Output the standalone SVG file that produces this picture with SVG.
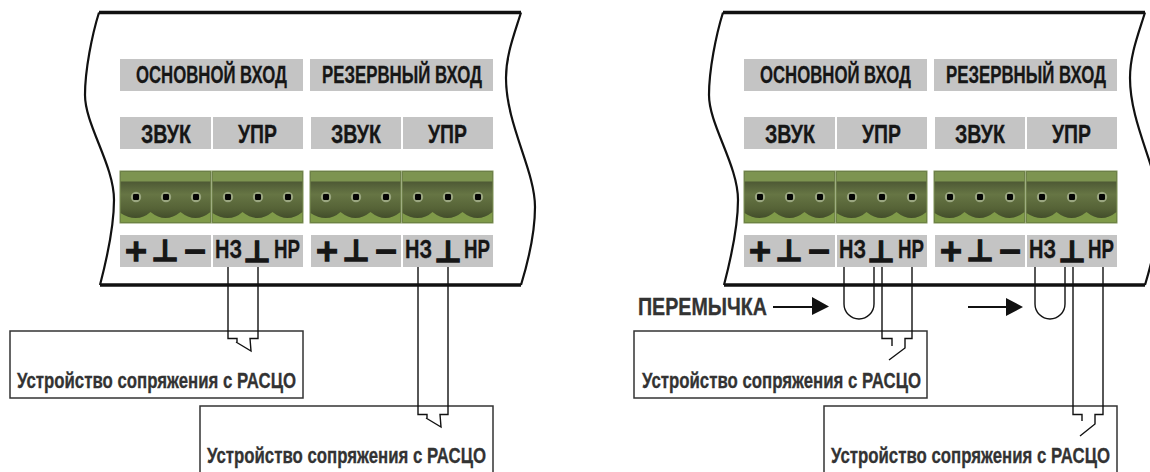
<svg xmlns="http://www.w3.org/2000/svg" xmlns:xlink="http://www.w3.org/1999/xlink" width="1150" height="472" viewBox="0 0 1150 472">
<style>
text{font-family:"Liberation Sans",Arial,sans-serif;font-weight:700;fill:#161616;stroke:#161616;stroke-width:.3}
.lb{font-size:23.500px}
.h{font-size:26px}
.sym{font-size:26px}
.gl{font-family:"DejaVu Sans",sans-serif;font-size:30px;text-anchor:middle;stroke:#161616;stroke-width:1.300}
.dev{font-size:21.500px;fill:#333;stroke:#333}
.pm{font-size:23px;fill:#333;stroke:#333}
.g{fill:#c4c4c4}
.edge{fill:none;stroke:#111;stroke-width:2.2}
.bar{fill:none;stroke:#111;stroke-width:3.4}
.w{fill:none;stroke:#111;stroke-width:1.4}
.box{fill:#fff;stroke:#333;stroke-width:1.5}
</style>
<defs>
<linearGradient id="body" x1="0" y1="0" x2="0" y2="1">
<stop offset="0" stop-color="#3a4228"/><stop offset=".45" stop-color="#667544"/><stop offset=".72" stop-color="#566337"/><stop offset="1" stop-color="#384224"/>
</linearGradient>
<g id="term">
<rect x="0" y="0" width="91" height="52" fill="url(#body)" stroke="#7e9256" stroke-width="1"/>
<rect x="0.5" y="0.5" width="90" height="10" fill="#7d9450"/>
<path d="M0.5 42Q8 47 15.5 47Q24 47 30.5 41Q38 47 45.5 47Q53 47 60.5 41Q68 47 75.5 47Q83 47 90.5 41V51.500H0.5Z" fill="#7f9a49"/>
<circle cx="16" cy="26" r="5.2" fill="#9aa680"/><rect x="13" y="23" width="6" height="6" rx="1.2" fill="#050505"/>
<circle cx="46" cy="26" r="5.2" fill="#9aa680"/><rect x="43" y="23" width="6" height="6" rx="1.2" fill="#050505"/>
<circle cx="76" cy="26" r="5.2" fill="#9aa680"/><rect x="73" y="23" width="6" height="6" rx="1.2" fill="#050505"/>
</g>
<g id="panel">
<path class="bar" d="M99 12.500H521"/>
<path class="bar" d="M100 285H521"/>
<path class="edge" d="M99 12.500C92 35 85 70 85 95C85 125 114 165 114 200C114 230 106 262 100 285"/>
<path class="edge" d="M521 12.500C514 35 506 55 506 78C506 125 535 170 535 207C535 235 528 262 521 285"/>
<rect class="g" x="120" y="59" width="183" height="32"/>
<rect class="g" x="310" y="59" width="183" height="32"/>
<rect class="g" x="120" y="117" width="91" height="32"/>
<rect class="g" x="213" y="117" width="90" height="32"/>
<rect class="g" x="311" y="117" width="90" height="32"/>
<rect class="g" x="403" y="117" width="90" height="32"/>
<rect class="g" x="120" y="235" width="91" height="32"/>
<rect class="g" x="213" y="235" width="90" height="32"/>
<rect class="g" x="311" y="235" width="90" height="32"/>
<rect class="g" x="403" y="235" width="90" height="32"/>
<use href="#term" xlink:href="#term" x="120" y="171"/>
<use href="#term" xlink:href="#term" x="212" y="171"/>
<use href="#term" xlink:href="#term" x="310" y="171"/>
<use href="#term" xlink:href="#term" x="402" y="171"/>
<text class="lb" x="136" y="83" textLength="151" lengthAdjust="spacingAndGlyphs">ОСНОВНОЙ ВХОД</text>
<text class="lb" x="322" y="83" textLength="160" lengthAdjust="spacingAndGlyphs">РЕЗЕРВНЫЙ ВХОД</text>
<text class="h" x="141" y="143" textLength="50" lengthAdjust="spacingAndGlyphs">ЗВУК</text>
<text class="h" x="238" y="143" textLength="39" lengthAdjust="spacingAndGlyphs">УПР</text>
<text class="h" x="331" y="143" textLength="50" lengthAdjust="spacingAndGlyphs">ЗВУК</text>
<text class="h" x="428" y="143" textLength="39" lengthAdjust="spacingAndGlyphs">УПР</text>
<text class="gl" x="136" y="261">+</text><text class="gl" x="165" y="261">⊥</text><text class="gl" x="195" y="261">−</text>
<text class="gl" x="327" y="261">+</text><text class="gl" x="356" y="261">⊥</text><text class="gl" x="386" y="261">−</text>
<text class="sym" x="215" y="258" textLength="27" lengthAdjust="spacingAndGlyphs">НЗ</text>
<text class="gl" x="257" y="262">⊥</text>
<text class="sym" x="274" y="258" textLength="26" lengthAdjust="spacingAndGlyphs">НР</text>
<text class="sym" x="405" y="258" textLength="27" lengthAdjust="spacingAndGlyphs">НЗ</text>
<text class="gl" x="448" y="262">⊥</text>
<text class="sym" x="464" y="258" textLength="26" lengthAdjust="spacingAndGlyphs">НР</text>
</g>
</defs>
<g id="panel-left"><use href="#panel" xlink:href="#panel"/></g>
<g id="panel-right" transform="translate(624 0)"><use href="#panel" xlink:href="#panel"/></g>
<g id="device-1"><rect class="box" x="10" y="331" width="293" height="67"/><text class="dev" x="17" y="388" textLength="279" lengthAdjust="spacingAndGlyphs">Устройство сопряжения с РАСЦО</text></g>
<g id="device-2"><path class="box" d="M200 473V406H493V473"/><text class="dev" x="207" y="463" textLength="279" lengthAdjust="spacingAndGlyphs">Устройство сопряжения с РАСЦО</text></g>
<g id="device-3"><rect class="box" x="634" y="331" width="293" height="67"/><text class="dev" x="642" y="388" textLength="279" lengthAdjust="spacingAndGlyphs">Устройство сопряжения с РАСЦО</text></g>
<g id="device-4"><path class="box" d="M824 473V406H1117V473"/><text class="dev" x="831" y="463" textLength="279" lengthAdjust="spacingAndGlyphs">Устройство сопряжения с РАСЦО</text></g>
<g id="connectors">
<path class="w" d="M228 267V338.500H237V342M258 267V338.500H250L251 351L236 342"/>
<path class="w" d="M418 267V414.500H427V418M448 267V414.500H440L441 427L426 418"/>
<path class="w" d="M844 267V304A15 15 0 0 0 874 304V267"/>
<path class="w" d="M882 267V338.500H892V346M912 267V338.500H905V348L889 360"/>
<path class="w" d="M1035 267V304A15 15 0 0 0 1065 304V267"/>
<path class="w" d="M1073 267V414.500H1082V421M1103 267V414.500H1095V424L1080 436"/>
<path fill="none" stroke="#111" stroke-width="1.800" d="M773 307H815M968 307H1010"/>
<path fill="#111" d="M812 297L829 306.500L812 315ZM1006 298L1023 307L1006 316Z"/>
</g>
<g id="label-jumper"><text class="pm" x="638" y="315" textLength="129" lengthAdjust="spacingAndGlyphs">ПЕРЕМЫЧКА</text></g>
</svg>
